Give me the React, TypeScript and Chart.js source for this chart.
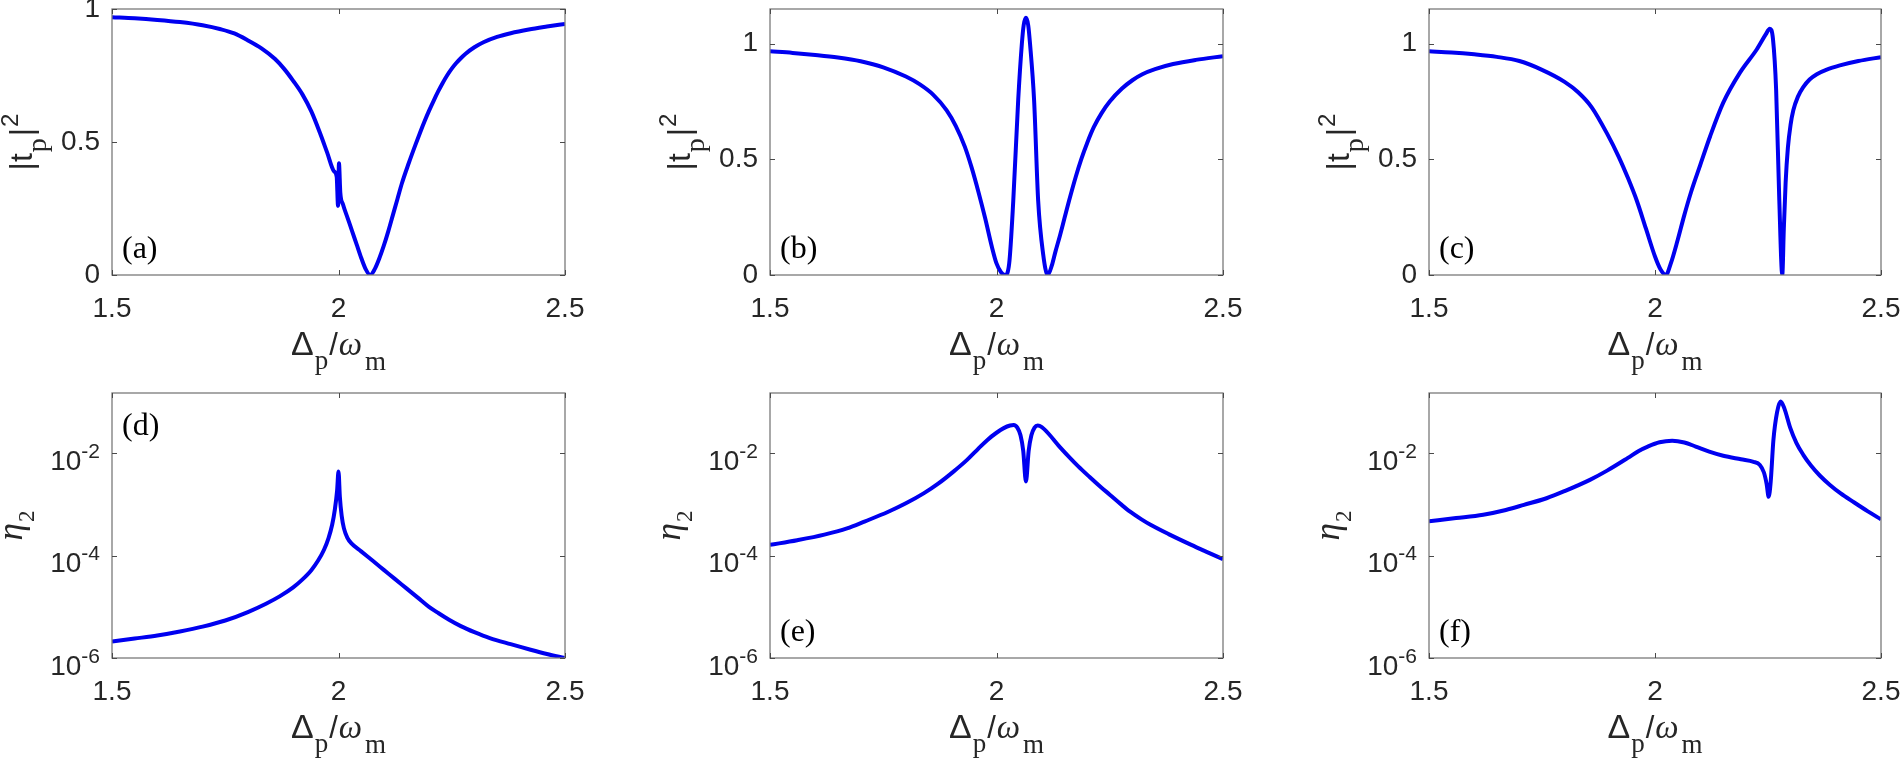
import React, { useEffect, useRef } from 'react';
import { Chart, registerables } from 'chart.js';

Chart.register(...registerables);

// ---------------- data ----------------
const X_TICKS = [1.5, 2, 2.5];
const LIN_TICKS = [0, 0.5, 1];
const LOG_TICKS = [1e-6, 1e-4, 1e-2];

// (a) |t_p|^2
const A_X = [1.50, 1.55, 1.60, 1.65, 1.70, 1.74, 1.77, 1.80, 1.83, 1.86, 1.88, 1.90, 1.92, 1.94, 1.96, 1.975, 1.99, 1.996, 1.999, 2.001, 2.004, 2.01, 2.02, 2.03, 2.04, 2.05, 2.06, 2.07, 2.08, 2.09, 2.10, 2.11, 2.12, 2.13, 2.14, 2.155, 2.17, 2.18, 2.19, 2.20, 2.21, 2.22, 2.23, 2.24, 2.25, 2.26, 2.27, 2.28, 2.30, 2.32, 2.35, 2.38, 2.42, 2.46, 2.50];
const A_Y = [0.969, 0.965, 0.959, 0.951, 0.939, 0.924, 0.908, 0.882, 0.852, 0.812, 0.775, 0.73, 0.68, 0.615, 0.53, 0.46, 0.39, 0.37, 0.26, 0.42, 0.31, 0.265, 0.215, 0.165, 0.115, 0.065, 0.022, 0.0, 0.022, 0.062, 0.11, 0.165, 0.225, 0.285, 0.345, 0.42, 0.49, 0.535, 0.578, 0.618, 0.655, 0.69, 0.722, 0.751, 0.776, 0.797, 0.815, 0.831, 0.856, 0.875, 0.895, 0.909, 0.923, 0.934, 0.944];

// (b) |t_p|^2
const B_X = [1.50, 1.55, 1.60, 1.65, 1.70, 1.75, 1.80, 1.83, 1.86, 1.89, 1.91, 1.93, 1.945, 1.96, 1.975, 1.99, 2.00, 2.01, 2.019, 2.028, 2.037, 2.048, 2.056, 2.060, 2.065, 2.070, 2.074, 2.083, 2.092, 2.103, 2.113, 2.122, 2.13, 2.14, 2.15, 2.16, 2.175, 2.187, 2.20, 2.215, 2.232, 2.25, 2.277, 2.30, 2.322, 2.35, 2.39, 2.44, 2.50];
const B_Y = [0.967, 0.960, 0.951, 0.940, 0.924, 0.898, 0.858, 0.825, 0.78, 0.712, 0.645, 0.555, 0.465, 0.36, 0.245, 0.12, 0.05, 0.012, 0.0, 0.05, 0.32, 0.76, 1.00, 1.08, 1.112, 1.08, 1.00, 0.755, 0.32, 0.09, 0.0, 0.04, 0.10, 0.17, 0.245, 0.32, 0.425, 0.50, 0.57, 0.64, 0.70, 0.75, 0.806, 0.842, 0.868, 0.890, 0.912, 0.930, 0.946];

// (c) |t_p|^2
const C_X = [1.50, 1.55, 1.60, 1.65, 1.70, 1.75, 1.80, 1.83, 1.86, 1.894, 1.92, 1.94, 1.96, 1.98, 2.00, 2.012, 2.024, 2.035, 2.05, 2.065, 2.08, 2.10, 2.122, 2.151, 2.188, 2.225, 2.245, 2.254, 2.261, 2.268, 2.275, 2.2816, 2.285, 2.289, 2.294, 2.30, 2.306, 2.316, 2.328, 2.342, 2.358, 2.38, 2.409, 2.45, 2.50];
const C_Y = [0.967, 0.962, 0.954, 0.943, 0.925, 0.887, 0.835, 0.79, 0.725, 0.611, 0.51, 0.42, 0.32, 0.20, 0.08, 0.025, 0.0, 0.05, 0.15, 0.26, 0.36, 0.475, 0.60, 0.745, 0.875, 0.975, 1.04, 1.065, 1.02, 0.80, 0.323, 0.0, 0.2, 0.40, 0.55, 0.65, 0.712, 0.77, 0.812, 0.845, 0.868, 0.888, 0.906, 0.925, 0.942];

// (d) eta_2
const D_X = [1.50, 1.55, 1.60, 1.65, 1.70, 1.75, 1.80, 1.84, 1.87, 1.90, 1.92, 1.94, 1.955, 1.968, 1.978, 1.986, 1.992, 1.997, 2.000, 2.003, 2.007, 2.012, 2.02, 2.028, 2.05, 2.075, 2.10, 2.125, 2.15, 2.175, 2.199, 2.22, 2.244, 2.27, 2.30, 2.334, 2.38, 2.424, 2.46, 2.50];
const D_Y = [2.1e-6, 2.4e-6, 2.75e-6, 3.3e-6, 4.1e-6, 5.4e-6, 7.9e-6, 1.15e-5, 1.6e-5, 2.4e-5, 3.4e-5, 5.2e-5, 8.0e-5, 1.3e-4, 2.2e-4, 4.0e-4, 8.0e-4, 1.9e-3, 4.4e-3, 1.4e-3, 6.0e-4, 3.4e-4, 2.2e-4, 1.75e-4, 1.21e-4, 8.0e-5, 5.27e-5, 3.47e-5, 2.29e-5, 1.51e-5, 1.01e-5, 7.6e-6, 5.6e-6, 4.2e-6, 3.2e-6, 2.45e-6, 1.86e-6, 1.45e-6, 1.2e-6, 1.0e-6];

// (e) eta_2
const E_X = [1.50, 1.56, 1.62, 1.67, 1.71, 1.76, 1.80, 1.84, 1.872, 1.905, 1.935, 1.96, 1.98, 2.00, 2.016, 2.03, 2.038, 2.046, 2.053, 2.059, 2.065, 2.071, 2.077, 2.084, 2.091, 2.10, 2.115, 2.137, 2.16, 2.18, 2.205, 2.23, 2.25, 2.275, 2.295, 2.32, 2.34, 2.38, 2.43, 2.47, 2.50];
const E_Y = [1.62e-4, 2.0e-4, 2.57e-4, 3.4e-4, 4.68e-4, 7.1e-4, 1.05e-3, 1.66e-3, 2.57e-3, 4.37e-3, 7.4e-3, 1.23e-2, 1.82e-2, 2.51e-2, 3.09e-2, 3.47e-2, 3.55e-2, 3.16e-2, 2.24e-2, 1.12e-2, 2.8e-3, 1.12e-2, 2.24e-2, 3.16e-2, 3.47e-2, 3.24e-2, 2.4e-2, 1.41e-2, 8.5e-3, 5.6e-3, 3.47e-3, 2.19e-3, 1.55e-3, 1.0e-3, 7.2e-4, 5.1e-4, 4.0e-4, 2.63e-4, 1.62e-4, 1.12e-4, 8.5e-5];

// (f) eta_2
const F_X = [1.50, 1.56, 1.62, 1.67, 1.71, 1.76, 1.80, 1.856, 1.894, 1.94, 1.965, 1.984, 2.01, 2.038, 2.065, 2.09, 2.12, 2.151, 2.19, 2.218, 2.232, 2.241, 2.247, 2.2515, 2.256, 2.262, 2.270, 2.278, 2.286, 2.299, 2.313, 2.328, 2.345, 2.365, 2.387, 2.41, 2.44, 2.47, 2.50];
const F_Y = [4.68e-4, 5.4e-4, 6.3e-4, 7.8e-4, 9.8e-4, 1.32e-3, 1.82e-3, 3.02e-3, 4.57e-3, 8.1e-3, 1.12e-2, 1.35e-2, 1.64e-2, 1.76e-2, 1.62e-2, 1.35e-2, 1.07e-2, 8.9e-3, 7.6e-3, 6.8e-3, 5.9e-3, 4.2e-3, 2.5e-3, 1.41e-3, 2.8e-3, 1.82e-2, 6.3e-2, 1.02e-1, 7.6e-2, 3.16e-2, 1.58e-2, 9.3e-3, 5.75e-3, 3.63e-3, 2.4e-3, 1.66e-3, 1.1e-3, 7.4e-4, 5.1e-4];

// ---------------- style ----------------
const SANS = '"Liberation Sans", Arial, Helvetica, sans-serif';
const SERIF = '"Liberation Serif", "Times New Roman", serif';
const LINE_COLOR = 'rgb(0,0,240)';
const TEXT_COLOR = '#262626';
const BOX_COLOR = '#7a7a7a';
const TICK_COLOR = '#4a4a4a';

const YW = 122; // y-axis box width
const PT = 24;  // top padding
const PR = 26;  // right padding
const TL = 5;   // inner tick length

type Panel = {
  name: string;
  xs: number[];
  ys: number[];
  kind: 'lin' | 'log';
  yMax: number;
  L: number; T: number; W: number; H: number; XH: number;
  labelTop?: boolean;
};

const PANELS: Panel[] = [
  { name: '(a)', xs: A_X, ys: A_Y, kind: 'lin', yMax: 1, L: 112, T: 9, W: 453, H: 266, XH: 105 },
  { name: '(b)', xs: B_X, ys: B_Y, kind: 'lin', yMax: 1.15, L: 770, T: 9, W: 453, H: 266, XH: 105 },
  { name: '(c)', xs: C_X, ys: C_Y, kind: 'lin', yMax: 1.15, L: 1429, T: 9, W: 452, H: 266, XH: 105 },
  { name: '(d)', xs: D_X, ys: D_Y, kind: 'log', yMax: 0.15, L: 112, T: 393, W: 453, H: 265, XH: 102, labelTop: true },
  { name: '(e)', xs: E_X, ys: E_Y, kind: 'log', yMax: 0.15, L: 770, T: 393, W: 453, H: 265, XH: 102 },
  { name: '(f)', xs: F_X, ys: F_Y, kind: 'log', yMax: 0.15, L: 1429, T: 393, W: 452, H: 265, XH: 102 },
];

type Seg = { t: string; font: string; dy?: number; dx?: number };

function drawRich(ctx: CanvasRenderingContext2D, segs: Seg[], x: number, y: number, align: 'left' | 'center' | 'right') {
  const widths = segs.map((s) => {
    ctx.font = s.font;
    return ctx.measureText(s.t).width + (s.dx || 0);
  });
  const total = widths.reduce((a, b) => a + b, 0);
  let cx = align === 'center' ? x - total / 2 : align === 'right' ? x - total : x;
  ctx.textAlign = 'left';
  ctx.textBaseline = 'alphabetic';
  segs.forEach((s, i) => {
    ctx.font = s.font;
    ctx.fillText(s.t, cx + (s.dx || 0), y + (s.dy || 0));
    cx += widths[i];
  });
}

const X_TITLE: Seg[] = [
  { t: 'Δ', font: `34px ${SANS}` },
  { t: 'p', font: `27px ${SERIF}`, dy: 14, dx: 1 },
  { t: '/', font: `31px ${SANS}`, dx: 1 },
  { t: 'ω', font: `italic 33px ${SERIF}`, dx: 1 },
  { t: 'm', font: `27px ${SERIF}`, dy: 15, dx: 3 },
];
const Y_TITLE_LIN: Seg[] = [
  { t: '|t', font: `32px ${SANS}` },
  { t: 'p', font: `28px ${SERIF}`, dy: 14, dx: 1 },
  { t: '|', font: `32px ${SANS}`, dx: 2 },
  { t: '2', font: `24px ${SANS}`, dy: -14, dx: 1 },
];
const Y_TITLE_LOG: Seg[] = [
  { t: 'η', font: `italic 35px ${SERIF}` },
  { t: '2', font: `23px ${SERIF}`, dy: 12, dx: 1 },
];

function decor(p: Panel) {
  return {
    id: 'decor',
    afterDraw(chart: any) {
      const { ctx, chartArea: ca, scales } = chart;
      const xs = scales.x;
      const ys = scales.y;
      ctx.save();
      // box
      ctx.strokeStyle = BOX_COLOR;
      ctx.lineWidth = 1.3;
      ctx.strokeRect(ca.left, ca.top, ca.right - ca.left, ca.bottom - ca.top);
      // inner ticks on all four sides
      ctx.strokeStyle = TICK_COLOR;
      ctx.lineWidth = 1;
      ctx.beginPath();
      for (const t of xs.ticks) {
        const px = Math.round(xs.getPixelForValue(t.value)) + 0.5;
        ctx.moveTo(px, ca.bottom);
        ctx.lineTo(px, ca.bottom - TL);
        ctx.moveTo(px, ca.top);
        ctx.lineTo(px, ca.top + TL);
      }
      for (const t of ys.ticks) {
        const py = Math.round(ys.getPixelForValue(t.value)) + 0.5;
        ctx.moveTo(ca.left, py);
        ctx.lineTo(ca.left + TL, py);
        ctx.moveTo(ca.right, py);
        ctx.lineTo(ca.right - TL, py);
      }
      ctx.stroke();

      ctx.fillStyle = TEXT_COLOR;
      // log tick labels 10^n
      if (p.kind === 'log') {
        for (const t of ys.ticks) {
          const py = ys.getPixelForValue(t.value);
          const e = Math.round(Math.log10(t.value));
          drawRich(ctx, [
            { t: '10', font: `28px ${SANS}` },
            { t: String(e), font: `21px ${SANS}`, dy: -12 },
          ], ca.left - 12, py + 16.5, 'right');
        }
      }
      // x title
      drawRich(ctx, X_TITLE, (ca.left + ca.right) / 2, ca.bottom + 80, 'center');
      // y title (rotated)
      ctx.save();
      const off = p.kind === 'log' ? 90 : 80;
      ctx.translate(ca.left - off, (ca.top + ca.bottom) / 2);
      ctx.rotate(-Math.PI / 2);
      drawRich(ctx, p.kind === 'log' ? Y_TITLE_LOG : Y_TITLE_LIN, 0, 0, 'center');
      ctx.restore();
      // panel label
      ctx.fillStyle = '#000';
      ctx.font = `32px ${SERIF}`;
      ctx.textAlign = 'left';
      ctx.textBaseline = 'alphabetic';
      ctx.fillText(p.name, ca.left + 10, p.labelTop ? ca.top + 42 : ca.bottom - 17);
      ctx.restore();
    },
  };
}

function makeConfig(p: Panel): any {
  const tickFont = { family: SANS, size: 28 };
  const yScale =
    p.kind === 'log'
      ? {
          type: 'logarithmic',
          min: 1e-6,
          max: p.yMax,
          afterBuildTicks: (s: any) => { s.ticks = LOG_TICKS.map((v) => ({ value: v })); },
          afterFit: (s: any) => { s.width = YW; },
          ticks: { display: false },
          grid: { display: false },
          border: { display: false },
        }
      : {
          type: 'linear',
          min: 0,
          max: p.yMax,
          afterBuildTicks: (s: any) => { s.ticks = LIN_TICKS.map((v) => ({ value: v })); },
          afterFit: (s: any) => { s.width = YW; },
          ticks: { font: tickFont, color: TEXT_COLOR, padding: 2, autoSkip: false, callback: (v: any) => String(v) },
          grid: { display: true, drawOnChartArea: false, drawTicks: true, tickLength: 10, tickColor: 'rgba(0,0,0,0)', color: 'rgba(0,0,0,0)' },
          border: { display: false },
        };
  return {
    type: 'scatter',
    data: {
      datasets: [
        {
          data: p.xs.map((x, i) => ({ x, y: p.ys[i] })),
          showLine: true,
          borderColor: LINE_COLOR,
          backgroundColor: LINE_COLOR,
          borderWidth: 4,
          pointRadius: 0,
          cubicInterpolationMode: 'monotone',
          fill: false,
        },
      ],
    },
    options: {
      responsive: false,
      maintainAspectRatio: false,
      animation: false,
      events: [],
      layout: { padding: { top: PT, right: PR, left: 0, bottom: 0 } },
      plugins: { legend: { display: false }, tooltip: { enabled: false }, title: { display: false } },
      scales: {
        x: {
          type: 'linear',
          min: 1.5,
          max: 2.5,
          afterBuildTicks: (s: any) => { s.ticks = X_TICKS.map((v) => ({ value: v })); },
          afterFit: (s: any) => { s.height = p.XH; },
          ticks: { font: tickFont, color: TEXT_COLOR, padding: 2, maxRotation: 0, autoSkip: false, callback: (v: any) => String(v) },
          grid: { display: true, drawOnChartArea: false, drawTicks: true, tickLength: 15, tickColor: 'rgba(0,0,0,0)', color: 'rgba(0,0,0,0)' },
          border: { display: false },
        },
        y: yScale,
      },
    },
    plugins: [decor(p)],
  };
}

function PanelChart({ p }: { p: Panel }) {
  const ref = useRef<HTMLCanvasElement>(null);
  const w = YW + p.W + PR;
  const h = PT + p.H + p.XH;
  useEffect(() => {
    const chart = new Chart(ref.current as HTMLCanvasElement, makeConfig(p));
    return () => chart.destroy();
  }, []);
  return (
    <canvas
      ref={ref}
      width={w}
      height={h}
      style={{ position: 'absolute', left: p.L - YW, top: p.T - PT, width: w, height: h }}
    />
  );
}

export default function App() {
  return (
    <div style={{ position: 'absolute', left: 0, top: 0, width: 1900, height: 760, overflow: 'hidden', background: '#fff' }}>
      {PANELS.map((p) => (
        <PanelChart key={p.name} p={p} />
      ))}
    </div>
  );
}
